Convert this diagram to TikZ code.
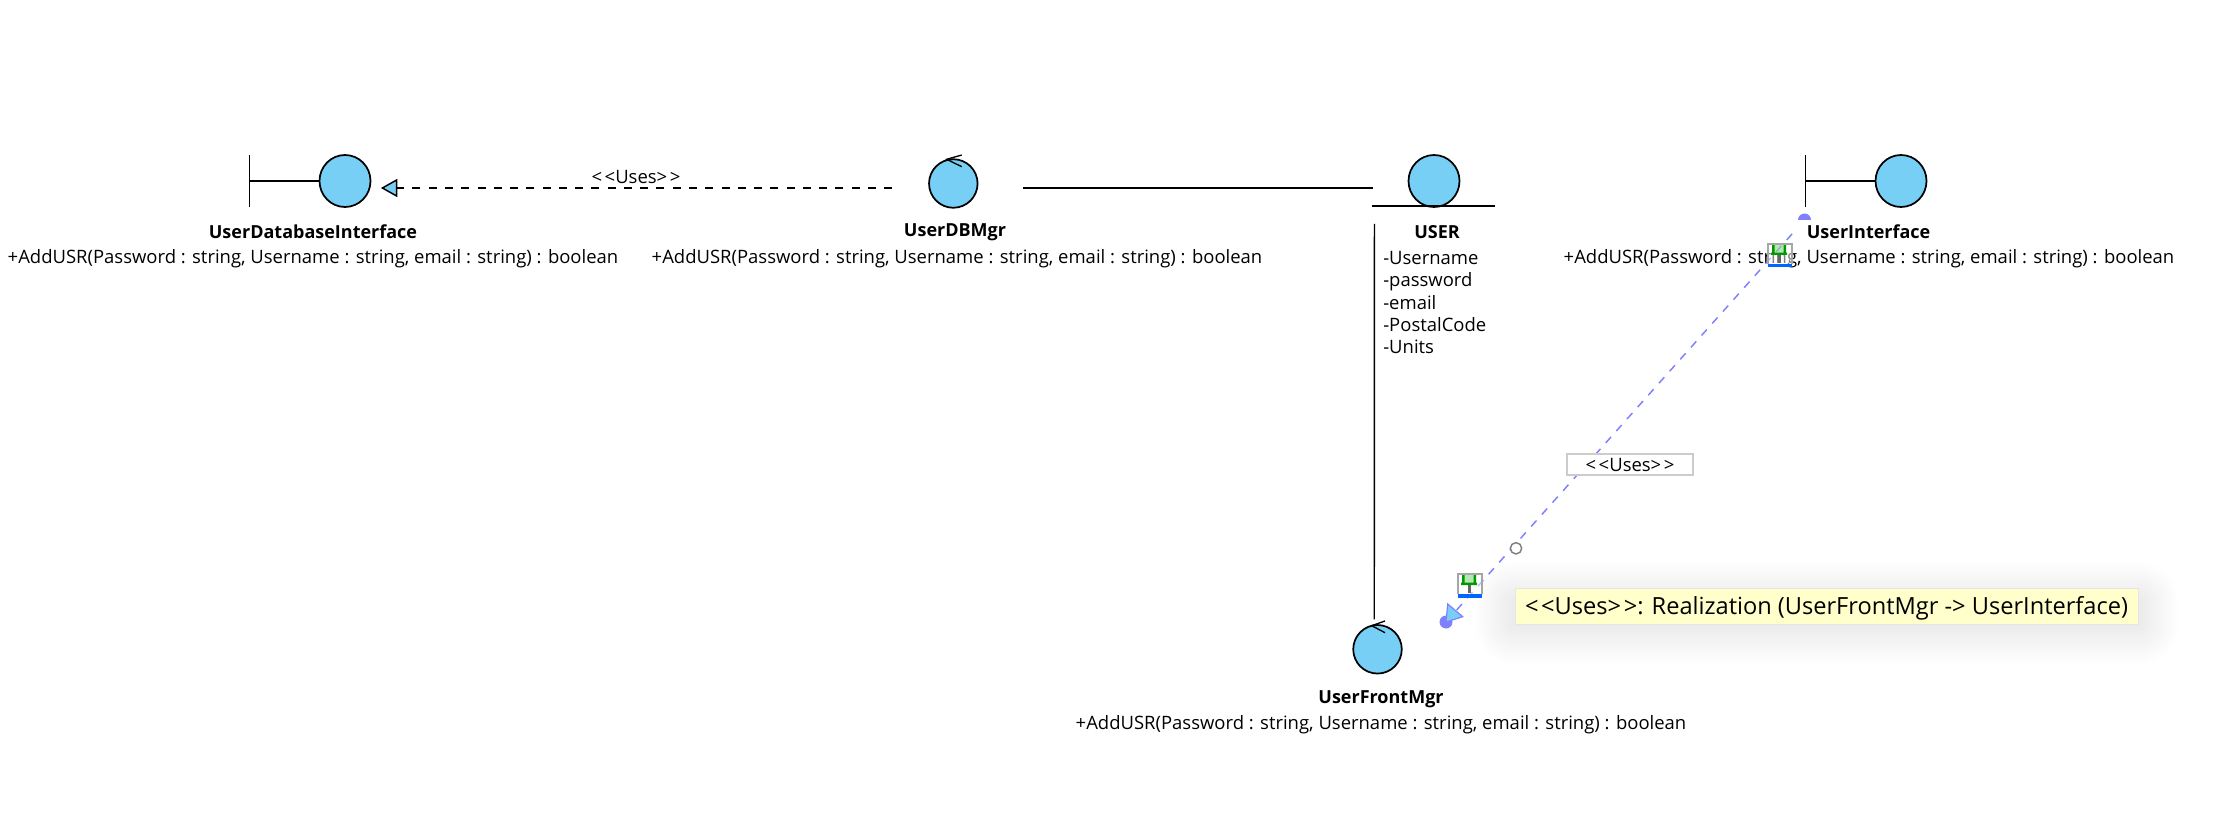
\documentclass[tikz,border=0pt]{standalone}
\usepackage{xcolor}
\usepackage{fontspec}
\setmainfont{Open Sans}
\usepackage{tikz}
\usetikzlibrary{shapes.geometric,arrows.meta,calc,backgrounds}

\definecolor{ballblue}{rgb}{0.47,0.81,0.96}
\definecolor{handleblue}{rgb}{0.50,0.50,1}
\definecolor{tipyellow}{rgb}{1,1,0.80}
\newcommand{\usestext}{<\kern2pt<Uses>\kern2pt>}
\newcommand{\optext}{+AddUSR(Password : string, Username : string, email : string) : boolean}

\tikzset{
  ball/.style={draw,ellipse,fill=ballblue,line width=1.3pt,inner sep=0pt,minimum width=38.25pt,minimum height=39pt},
  ctrlball/.style={ball,minimum width=36.4pt,minimum height=36.4pt},
  part/.style={line width=1pt},
  classname/.style={inner sep=0pt,font=\fontsize{13.5}{16}\selectfont\bfseries},
  opname/.style={inner sep=0pt,font=\fontsize{13.85}{16}\selectfont},
  attr/.style={inner sep=0pt,anchor=west,text height=10pt,text depth=3pt,font=\fontsize{13.85}{16}\selectfont},
  usesline/.style={line width=1pt,dash pattern=on 6pt off 6.2pt,-{Triangle[length=12.3pt,width=13.5pt,fill=ballblue,line width=1.1pt]}},
  realline/.style={handleblue,line width=1.1pt,dash pattern=on 6pt off 6pt},
  pinicon/.pic={
    \fill[white,opacity=0.5] (0,0) rectangle (24,20);
    \fill[green!70!black,opacity=0.3] (4,0) rectangle (18,9);
    \fill[green!60!black] (4,0) rectangle (6.5,9) (15.5,0) rectangle (18,9) (3,8.7) rectangle (19,11);
    \fill[black!60] (10,11) rectangle (12.5,19);
    \draw[black!35,line width=0.9pt] (0,20) -- (0,0) -- (24,0) -- (24,20);
    \fill[blue!60!cyan] (0,20) rectangle (24,23.5);
  }
}

\begin{document}
\begin{tikzpicture}[x=0.75pt,y=0.75pt,yscale=-1,xscale=1]
\useasboundingbox (0,0) rectangle (2226,816);

% UserDatabaseInterface
\node [ball] (dbif) at (345,181) {};
\draw [part] (249.6,155) -- (249.6,207) (249.6,181) -- (dbif.west);
\node [classname] (dbifname) at (313,232) {UserDatabaseInterface};
\node [opname] (dbifop) at (313,259) {\optext};

% UserDBMgr
\node [ctrlball] (dbmgr) at (953.3,183.5) {};
\draw [part] (961.7,155) -- (946.7,159.3) -- (961.7,166.7);
\node [classname] (dbmgrname) at (955,232) {UserDBMgr};
\node [opname] (dbmgrop) at (957,259) {\optext};

% USER
\node [ball] (user) at (1434,181) {};
\draw [part] (1372,206) -- (1495,206);
\node [classname] (username) at (1437,232) {USER};
\node [attr] (attra) at (1383,260) {-Username};
\node [attr] (attrb) at (1383,282) {-password};
\node [attr] (attrc) at (1383,304.5) {-email};
\node [attr] (attrd) at (1383,326.5) {-PostalCode};
\node [attr] (attre) at (1383,349) {-Units};

% UserInterface
\node [ball] (ui) at (1901,181) {};
\draw [part] (1805.5,155) -- (1805.5,207) (1805.5,181) -- (ui.west);
\node [classname] (uiname) at (1868.6,232) {UserInterface};
\node [opname] (uiop) at (1869,259) {\optext};

% UserFrontMgr
\node [ctrlball] (front) at (1377.5,649.3) {};
\draw [part] (1385,621) -- (1371.7,625.7) -- (1385,632.7);
\node [classname] (frontname) at (1381,699) {UserFrontMgr};
\node [opname] (frontop) at (1381,725) {\optext};

%Straight Lines
\draw [usesline] ($(dbmgr.west)+(-36,4.5)$) -- ($(dbif.east)+(9.5,7)$);
\node [opname] (dbuses) at (636,176.7) {\usestext};
\draw [part] ($(dbmgr.east)+(45,4.5)$) -- ($(user.west)+(-35,7)$);
\draw [part] ($(user.south)+(-59.6,16)$) -- ($(front.north)+(-3.2,-4.7)$);

%Realization being edited
\coordinate (uihandle) at (1804.5,220);
\node [circle,fill=handleblue,inner sep=0pt,minimum size=9.75pt] (fronthandle) at (1446,622) {};
\fill [handleblue] (1798,220) arc (180:360:6.5) -- cycle;
\draw [realline,shorten <=14pt] (uihandle) -- (fronthandle.center);
\draw [handleblue,fill=ballblue,line width=0.9pt] (1447.7,604) -- (1462.7,616.7) -- (fronthandle.center) -- cycle;

\node [circle,draw=black!50,fill=white,line width=1.1pt,inner sep=0pt,minimum size=8.5pt] (midpoint) at (1516,548.3) {};
\node [draw=black!20,fill=white,line width=1.5pt,inner sep=0pt,minimum width=95pt,minimum height=15.2pt,font=\fontsize{13.85}{16}\selectfont] (realuses) at (1630,464.5) {\usestext};

\path (1768,244) pic [yscale=-1] {pinicon};
\path (1458,574) pic [yscale=-1] {pinicon};

% Text Node
\node [fill=tipyellow,draw=black!10,line width=0.5pt,inner sep=0pt,minimum width=467pt,minimum height=27pt,text height=15pt,text depth=3pt,font=\fontsize{17.7}{20}\selectfont] (tooltip) at (1826.5,606) {\usestext: Realization (UserFrontMgr -> UserInterface)};
\begin{scope}[on background layer]
\foreach \r in {2,4,...,40}
  \fill [black,opacity=0.005,rounded corners=\r*0.75pt] ($(tooltip.north west)+(-\r,14-\r)$) rectangle ($(tooltip.south east)+(\r,\r)$);
\end{scope}

\end{tikzpicture}
\end{document}
